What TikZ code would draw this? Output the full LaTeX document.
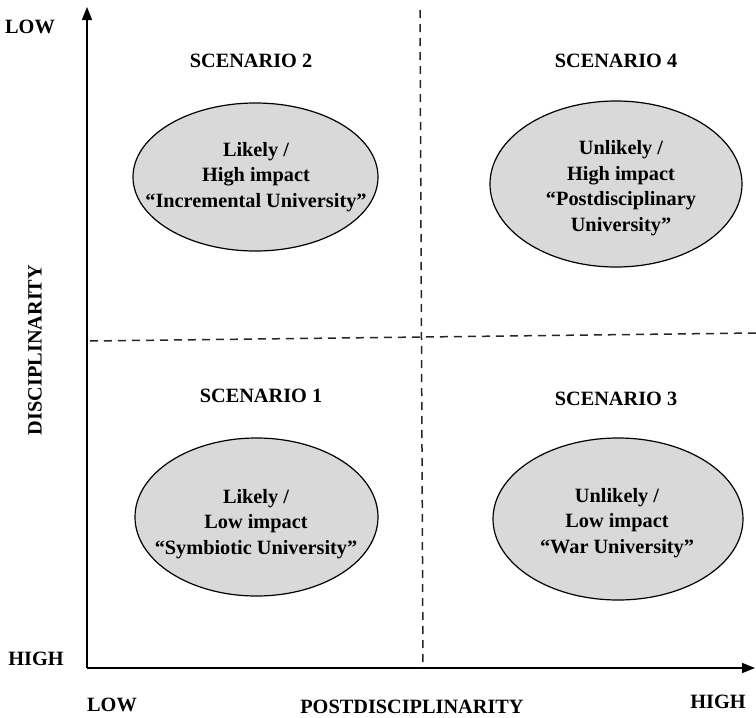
\documentclass[tikz,border=0pt]{standalone}
\usepackage{fontspec}
\setmainfont{Liberation Serif}
\usetikzlibrary{arrows.meta,shapes.geometric}
\definecolor{ellfill}{HTML}{D9D9D9}
\begin{document}
\begin{tikzpicture}[x=1pt,y=-1pt,
  axisline/.style={line width=1.6pt,-{Triangle[length=13pt,width=10pt]}},
  dashline/.style={line width=1.5pt,dash pattern=on 8pt off 6pt,color=black!85},
  scen/.style={ellipse,draw=black,line width=1.2pt,fill=ellfill,inner sep=0pt},
  txt/.style={font=\fontsize{20.3}{25.5}\selectfont\bfseries,align=center,inner sep=0pt},
  lbl/.style={font=\fontsize{20.3}{25.5}\selectfont\bfseries,inner sep=0pt}]
\useasboundingbox (0,0) rectangle (756,718);
% axes
\coordinate (o) at (87,668);
\coordinate (ytop) at (87,7);
\coordinate (xend) at (755,668);
\draw[axisline] (o) -- (ytop);
\draw[axisline] (o) -- (xend);
% dashed quadrant lines
\coordinate (vt) at (420,10);
\coordinate (vb) at (423,668);
\coordinate (hl) at (90,341);
\coordinate (hr) at (756,333);
\draw[dashline] (vt) -- (vb);
\draw[dashline] (hl) -- (hr);
% ellipses
\node[scen,minimum width=245pt,minimum height=148pt] (e2) at (255.5,177) {};
\node[scen,minimum width=252pt,minimum height=166pt] (e4) at (616,184) {};
\node[scen,minimum width=243pt,minimum height=158pt] (e1) at (256.5,517) {};
\node[scen,minimum width=250pt,minimum height=162pt] (e3) at (618,519) {};
% ellipse texts
\node[txt] (t2) at (256,177) {Likely /\\High impact\\“Incremental University”};
\node[txt] (t4) at (621,188) {Unlikely /\\High impact\\“Postdisciplinary\\University”};
\node[txt] (t1) at (256,524) {Likely /\\Low impact\\“Symbiotic University”};
\node[txt] (t3) at (617,523) {Unlikely /\\Low impact\\“War University”};
% scenario titles
\node[lbl] (s2) at (251,61) {SCENARIO 2};
\node[lbl] (s4) at (616,61) {SCENARIO 4};
\node[lbl] (s1) at (261,396) {SCENARIO 1};
\node[lbl] (s3) at (616,399) {SCENARIO 3};
% axis labels
\node[lbl] (ylow) at (30,27) {LOW};
\node[lbl] (yhigh) at (36,659) {HIGH};
\node[lbl] (xlow) at (112,705) {LOW};
\node[lbl] (xhigh) at (718,702) {HIGH};
\node[lbl] (xlab) at (412,707) {POSTDISCIPLINARITY};
\node[lbl,rotate=90] (ylab) at (35,350) {DISCIPLINARITY};
\end{tikzpicture}
\end{document}
